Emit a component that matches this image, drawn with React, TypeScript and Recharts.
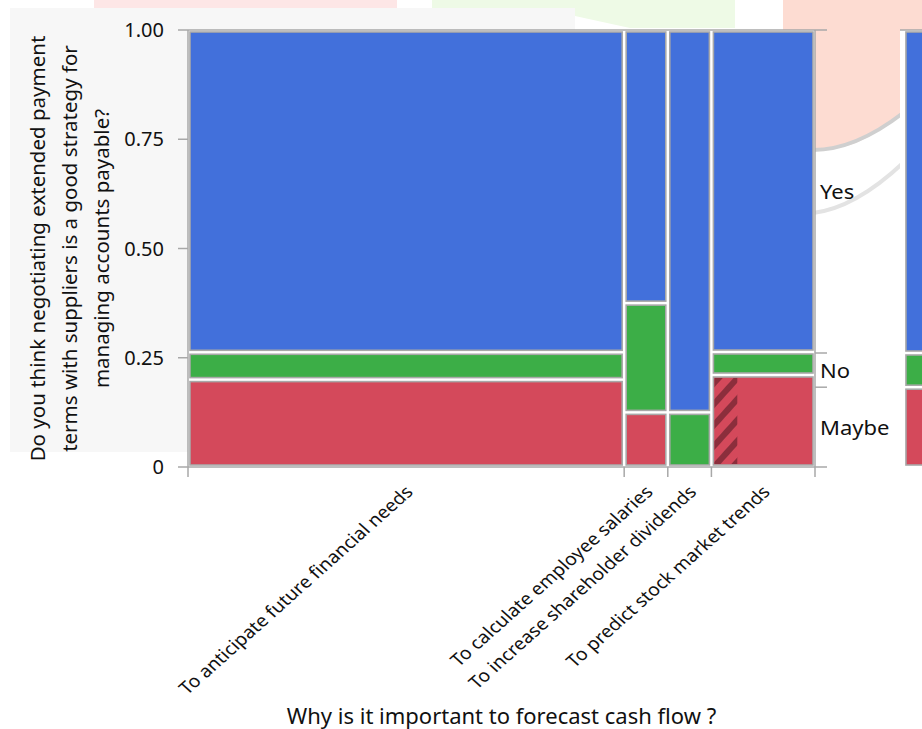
import {
  ComposedChart,
  XAxis,
  YAxis,
  Scatter,
  ReferenceArea,
  ReferenceLine,
  Label,
} from 'recharts'

const causes = [
  'To anticipate future financial needs',
  'To calculate employee salaries',
  'To increase shareholder dividends',
  'To predict stock market trends',
]
const answers = ['Maybe', 'No', 'Yes']
const maybeCounts = [16, 1, 0, 4]
const noCounts = [5, 2, 1, 1]
const yesCounts = [59, 5, 7, 14]
// share of each Maybe cell that is selected (drawn hatched)
const maybeSelected = [0, 0, 0, 0.25]
const yTicks = [0, 0.25, 0.5, 0.75, 1]
const yTitle = [
  'Do you think negotiating extended payment',
  'terms with suppliers is a good strategy for',
  'managing accounts payable?',
]
const xTitle = 'Why is it important to forecast cash flow ?'

const fills: Record<string, string> = {
  Maybe: '#d4495b',
  No: '#3cae47',
  Yes: '#4270db',
}
const grey = '#a8a8a8'
const font = '"Noto Sans", sans-serif'

const counts = [maybeCounts, noCounts, yesCounts]
const colTotals = causes.map((_, i) => counts.reduce((s, c) => s + c[i], 0))
const grand = colTotals.reduce((a, b) => a + b, 0)

const colEdges = [0]
colTotals.forEach((t) => colEdges.push(colEdges[colEdges.length - 1] + t / grand))
const colMids = causes.map((_, i) => (colEdges[i] + colEdges[i + 1]) / 2)

type Box = { key: string; x1: number; x2: number; y1: number; y2: number; fill: string }
const cells: Box[] = []
causes.forEach((_, i) => {
  let acc = 0
  answers.forEach((a, j) => {
    const share = counts[j][i] / colTotals[i]
    if (share > 0) {
      cells.push({ key: `${i}-${a}`, x1: colEdges[i], x2: colEdges[i + 1], y1: acc, y2: acc + share, fill: fills[a] })
    }
    acc += share
  })
})

// overall split: right axis + the strip at the right edge
const overallEdges = [0]
answers.forEach((_, j) =>
  overallEdges.push(overallEdges[j] + counts[j].reduce((a, b) => a + b, 0) / grand)
)
const overallMids = answers.map((_, j) => (overallEdges[j] + overallEdges[j + 1]) / 2)

const anchorPoints = colMids.map((x) => ({ x, y: 0 }))

const near = (a: number, b: number) => Math.abs(a - b) < 1e-9

const CellShape = (props: any) => {
  const { x, y, width, height, color } = props
  return (
    <rect
      x={x + 2}
      y={y + 2}
      width={Math.max(width - 4, 0)}
      height={Math.max(height - 4, 0)}
      fill={color}
      stroke={grey}
      strokeWidth={1.6}
    />
  )
}

const HatchShape = (props: any) => {
  const { x, y, width, height } = props
  return (
    <g>
      <defs>
        <pattern id="sel-hatch" width={14} height={14} patternUnits="userSpaceOnUse" patternTransform="rotate(42)">
          <rect width={6} height={14} fill="#5a1c28" fillOpacity={0.6} />
        </pattern>
      </defs>
      <rect x={x + 3} y={y + 3} width={Math.max(width - 3, 0)} height={Math.max(height - 6, 0)} fill="url(#sel-hatch)" />
    </g>
  )
}

const XTick = ({ x, y, payload }: any) => {
  const ci = colMids.findIndex((m) => near(m, payload.value))
  if (ci < 0) {
    return <line x1={x} x2={x} y1={y} y2={y + 10} stroke={grey} strokeWidth={1.5} />
  }
  const tx = x + 8
  const ty = y + 26
  return (
    <text
      x={0}
      y={0}
      textAnchor="end"
      transform={`translate(${tx} ${ty}) scale(1.12 1) rotate(-45)`}
      fontFamily={font}
      fontSize={17.4}
      fill="#111"
    >
      {causes[ci]}
    </text>
  )
}

const RightTick = ({ x, y, payload }: any) => {
  const ai = overallMids.findIndex((m) => near(m, payload.value))
  if (ai < 0) {
    return <line x1={x} x2={x + 12} y1={y} y2={y} stroke={grey} strokeWidth={1.5} />
  }
  return (
    <text
      x={0}
      y={0}
      transform={`translate(${x + 5} ${y}) scale(1.1 1)`}
      dominantBaseline="central"
      fontFamily={font}
      fontSize={20}
      fill="#111"
    >
      {answers[ai]}
    </text>
  )
}

const YTitle = ({ viewBox }: any) => {
  const cy = viewBox.y + viewBox.height / 2
  return (
    <g>
      {yTitle.map((t, i) => {
        const lx = viewBox.x + 37 + i * 32
        return (
          <text
            key={t}
            x={lx}
            y={cy}
            transform={`rotate(-90 ${lx} ${cy})`}
            textAnchor="middle"
            dominantBaseline="central"
            fontFamily={font}
            fontSize={20.5}
            fill="#111"
          >
            {t}
          </text>
        )
      })}
    </g>
  )
}

function Backdrop() {
  return (
    <svg width={922} height={729} style={{ position: 'absolute', left: 0, top: 0 }}>
      <rect x={94} y={0} width={303} height={15} fill="#fde6e6" />
      <path d="M432,0 L735,0 L735,28 L630,28 L575,16 L432,16 Z" fill="#eefae6" />
      <path d="M783,0 L922,0 L922,95 Q880,135 850,145 Q830,150 800,150 L783,150 Z" fill="#fddcd2" />
      <path d="M813,150 Q855,150 903,113" stroke="#cfcfcf" strokeWidth={4} fill="none" />
      <path d="M813,213 Q855,208 903,163" stroke="#e3e3e3" strokeWidth={4} fill="none" />
      <rect x={10} y={8} width={565} height={444} fill="#f7f7f7" />
    </svg>
  )
}

export default function App() {
  const xTicks = [...colEdges, ...colMids].sort((a, b) => a - b)
  const rightTicks = [...overallEdges, ...overallMids].sort((a, b) => a - b)
  return (
    <div style={{ position: 'fixed', left: 0, top: 0, width: 922, height: 729, overflow: 'hidden', background: '#fff' }}>
      <Backdrop />
      <div style={{ position: 'absolute', left: 0, top: 0 }}>
        <ComposedChart width={922} height={729} data={anchorPoints} margin={{ top: 30, right: 60, bottom: 0, left: 0 }}>
          <XAxis
            type="number"
            dataKey="x"
            domain={[0, 1]}
            ticks={xTicks}
            interval={0}
            tick={<XTick />}
            tickSize={0}
            tickMargin={0}
            height={262}
            axisLine={{ stroke: grey, strokeWidth: 1.5 }}
            tickLine={false}
          >
            <Label value={xTitle} position="insideBottom" offset={5} style={{ fontFamily: font, fontSize: 22, fill: '#111' }} />
          </XAxis>
          <YAxis
            yAxisId="left"
            type="number"
            dataKey="y"
            domain={[0, 1]}
            ticks={yTicks}
            interval={0}
            width={188}
            tickSize={10}
            tickMargin={14}
            tickFormatter={(v: number) => (v === 0 ? '0' : v.toFixed(2))}
            tick={{ fill: '#111', fontSize: 20, fontFamily: font }}
            axisLine={{ stroke: grey, strokeWidth: 1.5 }}
            tickLine={{ stroke: grey, strokeWidth: 1.5 }}
          >
            <Label content={<YTitle />} />
          </YAxis>
          <YAxis
            yAxisId="right"
            orientation="right"
            type="number"
            dataKey="y"
            domain={[0, 1]}
            ticks={rightTicks}
            interval={0}
            width={47}
            tickSize={0}
            tickMargin={0}
            tick={<RightTick />}
            tickLine={false}
            axisLine={{ stroke: grey, strokeWidth: 1.5 }}
          />
          <ReferenceArea yAxisId="left" x1={0} x2={1} y1={0} y2={1} fill="#fff" fillOpacity={1} stroke="none" />
          {cells.map((c) => (
            <ReferenceArea
              key={c.key}
              yAxisId="left"
              x1={c.x1}
              x2={c.x2}
              y1={c.y1}
              y2={c.y2}
              shape={(p: any) => <CellShape {...p} color={c.fill} />}
            />
          ))}
          {causes.map((cause, i) =>
            maybeSelected[i] > 0 ? (
              <ReferenceArea
                key={`sel-${cause}`}
                yAxisId="left"
                x1={colEdges[i]}
                x2={colEdges[i] + maybeSelected[i] * (colEdges[i + 1] - colEdges[i])}
                y1={0}
                y2={maybeCounts[i] / colTotals[i]}
                shape={(p: any) => <HatchShape {...p} />}
              />
            ) : null
          )}
          <ReferenceLine yAxisId="left" y={1} stroke={grey} strokeWidth={1.5} />
          <Scatter yAxisId="left" dataKey="y" fill="none" shape={() => <g />} isAnimationActive={false} legendType="none" />
          <Scatter yAxisId="right" dataKey="y" fill="none" shape={() => <g />} isAnimationActive={false} legendType="none" />
        </ComposedChart>
      </div>
      <div style={{ position: 'absolute', left: 898, top: 0 }}>
        <ComposedChart width={200} height={729} data={[{ x: 0.5, y: 0 }]} margin={{ top: 30, right: 0, bottom: 262, left: 2 }}>
          <XAxis type="number" dataKey="x" domain={[0, 1]} hide />
          <YAxis
            type="number"
            dataKey="y"
            domain={[0, 1]}
            width={0}
            tick={false}
            tickLine={false}
            axisLine={{ stroke: grey, strokeWidth: 2 }}
          />
          <ReferenceArea x1={0} x2={1} y1={0} y2={1} fill="#fff" fillOpacity={1} stroke="none" />
          {answers.map((a, j) => (
            <ReferenceArea
              key={`all-${a}`}
              x1={0.02}
              x2={1}
              y1={overallEdges[j]}
              y2={overallEdges[j + 1]}
              shape={(p: any) => <CellShape {...p} color={fills[a]} />}
            />
          ))}
          <ReferenceLine y={1} stroke={grey} strokeWidth={1.5} />
          <Scatter dataKey="y" fill="none" shape={() => <g />} isAnimationActive={false} legendType="none" />
        </ComposedChart>
      </div>
    </div>
  )
}
